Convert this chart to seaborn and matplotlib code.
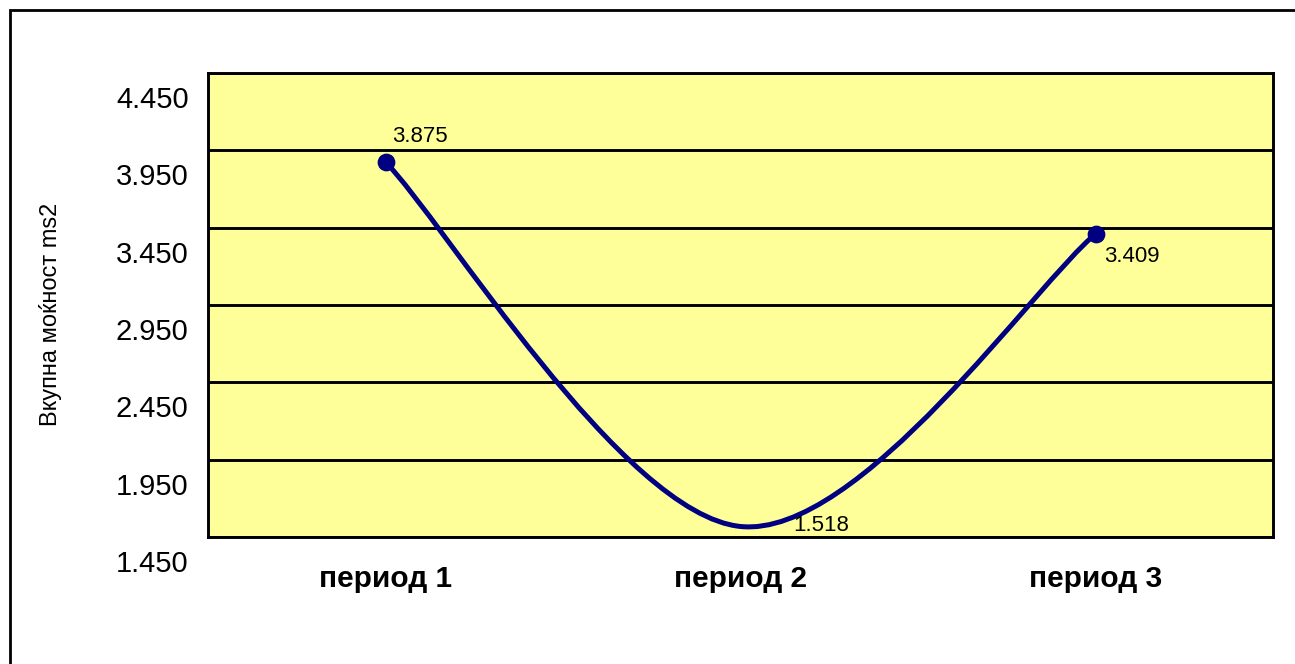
import matplotlib
matplotlib.use("Agg")
import matplotlib.pyplot as plt
import matplotlib.transforms as mtransforms
from matplotlib.path import Path
from matplotlib.patches import PathPatch, Rectangle
import seaborn as sns
import pandas as pd

# data
periods = ["период 1", "период 2", "период 3"]
values = [3.875, 1.518, 3.409]
value_labels = ["3.875", "1.518", "3.409"]
y_ticks = [1.450, 1.950, 2.450, 2.950, 3.450, 3.950, 4.450]
y_label = "Вкупна моќност ms2"

LINE_COLOR = "#000080"
PLOT_BG = "#FFFF99"

sns.set_style("white", {"text.color": "black", "axes.labelcolor": "black",
                        "xtick.color": "black", "ytick.color": "black"})
plt.rcParams["font.family"] = ["Liberation Sans", "DejaVu Sans"]

df = pd.DataFrame({"period": periods, "value": values, "x": range(len(periods))})

fig = plt.figure(figsize=(12.95, 6.64), dpi=100)
ax = fig.add_axes([208 / 1295, 1 - 537 / 664, 1065 / 1295, 464 / 664])
ax.set_facecolor(PLOT_BG)

# outer chart frame (right and bottom edges fall outside the picture)
fig.patches.append(Rectangle((10 / 1295, -0.05), 1.2, 1 - 10 / 664 + 0.05,
                             transform=fig.transFigure, fill=False,
                             edgecolor="black", linewidth=2, zorder=0))

# smoothed line, Excel-style Bezier segments built from the data points
xs = list(df["x"])
ys = list(df["value"])
verts = [(xs[0], ys[0])]
codes = [Path.MOVETO]
n = len(xs)
for i in range(n - 1):
    p_prev = i - 1 if i > 0 else i
    p_next = i + 2 if i + 2 < n else i + 1
    c1 = (xs[i] + (xs[i + 1] - xs[p_prev]) / 6, ys[i] + (ys[i + 1] - ys[p_prev]) / 6)
    c2 = (xs[i + 1] - (xs[p_next] - xs[i]) / 6, ys[i + 1] - (ys[p_next] - ys[i]) / 6)
    verts += [c1, c2, (xs[i + 1], ys[i + 1])]
    codes += [Path.CURVE4, Path.CURVE4, Path.CURVE4]
ax.add_patch(PathPatch(Path(verts, codes), fill=False, edgecolor=LINE_COLOR,
                       linewidth=3.6, capstyle="round", zorder=3))

# markers only show on the first and last point
ends = df.iloc[[0, -1]]
sns.scatterplot(data=ends, x="x", y="value", ax=ax, color=LINE_COLOR,
                s=140, edgecolor=LINE_COLOR, zorder=4, legend=False)

# data labels (offsets in points from each data point)
offsets = [(5, 18), (38, 1), (6, -16)]
for xv, yv, lab, off in zip(xs, ys, value_labels, offsets):
    ax.annotate(lab, (xv, yv), xytext=off, textcoords="offset points",
                ha="left", va="center", fontsize=16, color="black", zorder=5)

ax.set_xlim(-0.5, 2.5)
ax.set_ylim(1.45, 4.45)
ax.set_xticks(xs)
ax.set_xticklabels(periods, fontsize=21.5, fontweight="bold")
ax.set_yticks(y_ticks)
ax.set_yticklabels([f"{t:.3f}" for t in y_ticks], fontsize=21)
ax.tick_params(axis="both", length=0, labelcolor="black")
ax.tick_params(axis="x", pad=20)
ax.tick_params(axis="y", pad=14)

# y tick labels sit a bit below their gridlines in the reference
shift = mtransforms.ScaledTranslation(0, -0.24, fig.dpi_scale_trans)
for lbl in ax.get_yticklabels():
    lbl.set_transform(lbl.get_transform() + shift)

ax.yaxis.grid(True, color="black", linewidth=2.1)
ax.xaxis.grid(False)
ax.set_axisbelow(True)
for sp in ax.spines.values():
    sp.set_visible(True)
    sp.set_color("black")
    sp.set_linewidth(2.1)

ax.set_xlabel("")
ax.set_ylabel(y_label, fontsize=17, color="black")
ax.yaxis.set_label_coords(-0.137, 0.48)

fig.savefig("out.png", dpi=100, facecolor="white")
